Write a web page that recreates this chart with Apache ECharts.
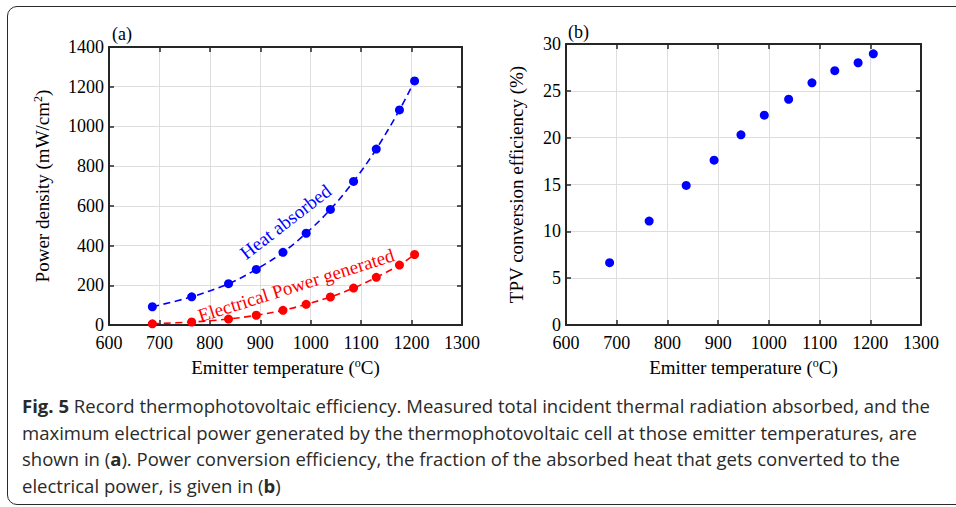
<!DOCTYPE html>
<html>
<head>
<meta charset="utf-8">
<script src="https://cdn.jsdelivr.net/npm/echarts@6/dist/echarts.min.js"></script>
<style>
  html, body { margin: 0; padding: 0; background: #fff; width: 956px; height: 507px; overflow: hidden; }
  #frame { position: absolute; left: 7px; top: 6px; width: 970px; height: 499px; border: 1.6px solid #2a2a2a; border-radius: 10px; box-sizing: border-box; }
  #chart { position: absolute; left: 0; top: 0; width: 956px; height: 390px; }
  #caption { position: absolute; left: 22px; top: 393px; font-family: "Open Sans", "Noto Sans", sans-serif; font-size: 18px; line-height: 26.6px; color: #2a2a2a; white-space: nowrap; transform-origin: 0 0; }
  #caption b { font-weight: 700; }
</style>
</head>
<body>
<div id="frame"></div>
<div id="chart"></div>
<div id="caption">
  <div class="ln" id="ln1"><b>Fig. 5</b> Record thermophotovoltaic efficiency. Measured total incident thermal radiation absorbed, and the</div>
  <div class="ln">maximum electrical power generated by the thermophotovoltaic cell at those emitter temperatures, are</div>
  <div class="ln">shown in (<b>a</b>). Power conversion efficiency, the fraction of the absorbed heat that gets converted to the</div>
  <div class="ln">electrical power, is given in (<b>b</b>)</div>
</div>
<script>
// ---- data ----
const temps = [686, 764, 837, 892, 945, 991, 1039, 1085, 1130, 1176, 1206];
const heatAbsorbed = [92, 142, 208, 280, 366, 462, 582, 723, 886, 1083, 1229];
const elecPower = [6, 15, 30, 49, 74, 104, 141, 186, 240, 302, 355];
const efficiency = [6.65, 11.1, 14.9, 17.6, 20.3, 22.4, 24.1, 25.85, 27.15, 28.0, 28.95];
const xTicks = { min: 600, max: 1300, interval: 100 };
const yTicksA = { min: 0, max: 1400, interval: 200 };
const yTicksB = { min: 0, max: 30, interval: 5 };
const annHeat = { text: 'Heat absorbed', at: [950, 520], angle: 37.5 };
const annElec = { text: 'Electrical Power generated', at: [971, 200], angle: 17.5 };

const serif = '"Liberation Serif", "Times New Roman", serif';
const boxColor = '#262626';
const plain = v => String(v);

function zip(a, b) { return a.map((v, i) => [v, b[i]]); }

function bottomX(grid, name) {
  return {
    type: 'value', gridIndex: grid, position: 'bottom',
    min: xTicks.min, max: xTicks.max, interval: xTicks.interval,
    name: name, nameLocation: 'middle', nameGap: 32,
    nameTextStyle: { fontFamily: serif, fontSize: 19, color: '#000',
      rich: { sup: { fontFamily: serif, fontSize: 12, color: '#000', verticalAlign: 'top', padding: [0, 0, 8, 0] } } },
    axisLine: { show: true, onZero: false, lineStyle: { color: boxColor, width: 2 } },
    axisTick: { show: true, inside: true, length: 5, lineStyle: { color: boxColor, width: 1.5 } },
    axisLabel: { fontFamily: serif, fontSize: 18, color: '#000', margin: 10, lineHeight: 16, formatter: plain },
    splitLine: { show: true, lineStyle: { color: '#dedede', width: 1 } }
  };
}
function topX(grid) {
  return {
    type: 'value', gridIndex: grid, position: 'top',
    min: xTicks.min, max: xTicks.max, interval: xTicks.interval,
    axisLine: { show: true, onZero: false, lineStyle: { color: boxColor, width: 2 } },
    axisTick: { show: true, inside: true, length: 5, lineStyle: { color: boxColor, width: 1.5 } },
    axisLabel: { show: false }, splitLine: { show: false }
  };
}
function leftY(grid, t, name, gap) {
  return {
    type: 'value', gridIndex: grid, position: 'left',
    min: t.min, max: t.max, interval: t.interval,
    name: name, nameLocation: 'middle', nameGap: gap,
    nameTextStyle: { fontFamily: serif, fontSize: 19, color: '#000',
      rich: { sup: { fontFamily: serif, fontSize: 12, color: '#000', verticalAlign: 'top', padding: [0, 0, 8, 0] } } },
    axisLine: { show: true, onZero: false, lineStyle: { color: boxColor, width: 2 } },
    axisTick: { show: true, inside: true, length: 5, lineStyle: { color: boxColor, width: 1.5 } },
    axisLabel: { fontFamily: serif, fontSize: 18, color: '#000', margin: 5, lineHeight: 14, formatter: plain },
    splitLine: { show: true, lineStyle: { color: '#dedede', width: 1 } }
  };
}
function rightY(grid, t) {
  return {
    type: 'value', gridIndex: grid, position: 'right',
    min: t.min, max: t.max, interval: t.interval,
    axisLine: { show: true, onZero: false, lineStyle: { color: boxColor, width: 2 } },
    axisTick: { show: true, inside: true, length: 5, lineStyle: { color: boxColor, width: 1.5 } },
    axisLabel: { show: false }, splitLine: { show: false }
  };
}

const chart = echarts.init(document.getElementById('chart'), null, { renderer: 'svg', width: 956, height: 390 });
const option = {
  animation: false,
  backgroundColor: 'transparent',
  grid: [
    { left: 109, top: 47, width: 353, height: 278 },
    { left: 566, top: 44, width: 355, height: 281 }
  ],
  xAxis: [
    bottomX(0, 'Emitter temperature ({sup|o}C)'), topX(0),
    bottomX(1, 'Emitter temperature ({sup|o}C)'), topX(1)
  ],
  yAxis: [
    leftY(0, yTicksA, 'Power density (mW/cm{sup|2})', 57), rightY(0, yTicksA),
    leftY(1, yTicksB, 'TPV conversion efficiency (%)', 40), rightY(1, yTicksB)
  ],
  series: [
    { type: 'line', name: 'Heat absorbed', xAxisIndex: 0, yAxisIndex: 0,
      data: zip(temps, heatAbsorbed), smooth: 0.35,
      symbol: 'circle', symbolSize: 9, itemStyle: { color: '#0000ff', opacity: 1 },
      lineStyle: { color: '#0000ff', width: 1.6, type: [7, 4.5] } },
    { type: 'line', name: 'Electrical Power generated', xAxisIndex: 0, yAxisIndex: 0,
      data: zip(temps, elecPower), smooth: 0.35,
      symbol: 'circle', symbolSize: 9, itemStyle: { color: '#ff0000', opacity: 1 },
      lineStyle: { color: '#ff0000', width: 1.6, type: [7, 4.5] } },
    { type: 'scatter', name: 'TPV efficiency', xAxisIndex: 2, yAxisIndex: 2,
      data: zip(temps, efficiency), symbol: 'circle', symbolSize: 9,
      itemStyle: { color: '#0000ff', opacity: 1 } }
  ]
};
chart.setOption(option);

function annText(a, color) {
  const p = chart.convertToPixel({ gridIndex: 0 }, a.at);
  return {
    type: 'text', x: p[0], y: p[1], rotation: a.angle * Math.PI / 180,
    style: { text: a.text, fill: color, font: '19px ' + serif, align: 'center', verticalAlign: 'middle' }
  };
}
chart.setOption({
  graphic: [
    annText(annHeat, '#0000ff'),
    annText(annElec, '#ff0000'),
    { type: 'text', x: 112, y: 34, style: { text: '(a)', fill: '#000', font: '18px ' + serif, verticalAlign: 'middle' } },
    { type: 'text', x: 568, y: 32, style: { text: '(b)', fill: '#000', font: '18px ' + serif, verticalAlign: 'middle' } }
  ]
});

// fit caption width to the reference line width
const cap = document.getElementById('caption');
const l1 = document.getElementById('ln1');
l1.style.display = 'inline-block';
const w = l1.getBoundingClientRect().width;
l1.style.display = 'block';
cap.style.transform = 'scaleX(' + (908 / w) + ')';
</script>
</body>
</html>
